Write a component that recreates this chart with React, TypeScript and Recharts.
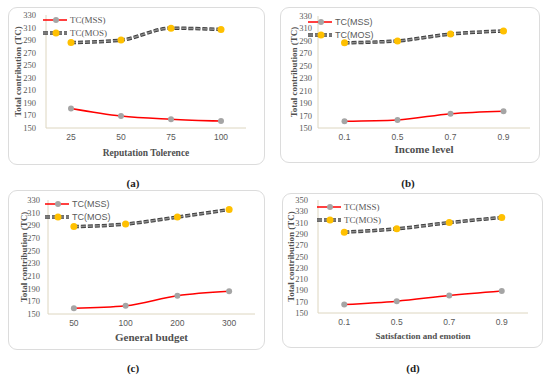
import { LineChart, Line, XAxis, YAxis, Legend } from 'recharts';

const catsA = ['25', '50', '75', '100'];
const mssA = [181, 169, 164, 161];
const mosA = [286, 290, 309, 307];

const catsB = ['0.1', '0.5', '0.7', '0.9'];
const mssB = [161, 163, 173, 177];
const mosB = [287, 290, 301, 306];

const catsC = ['50', '100', '200', '300'];
const mssC = [159, 163, 179, 186];
const mosC = [288, 292, 303, 315];

const catsD = ['0.1', '0.5', '0.7', '0.9'];
const mssD = [165, 171, 181, 189];
const mosD = [293, 299, 310, 319];

const ticks330 = [150, 170, 190, 210, 230, 250, 270, 290, 310, 330];
const ticks350 = [150, 170, 190, 210, 230, 250, 270, 290, 310, 330, 350];

const SERIF = '"Liberation Serif", "DejaVu Serif", serif';
const SANS = '"Liberation Sans", Arial, sans-serif';
const BORDER = '#ddd6c0';

type PanelProps = {
  cats: string[];
  mss: number[];
  mos: number[];
  ticks: number[];
  box: { left: number; top: number; width: number; height: number };
  margin: { top: number; right: number; bottom: number; left: number };
  yWidth: number;
  yTickGap: number;
  yTitleOffset: number;
  xHeight: number;
  xTitle: string;
  xTitleSize: number;
  xTitleOffset: number;
  legendPos: { left: number; top: number };
  legendFont: string;
};

function LegendBox({ font }: { font: string }) {
  return (
    <svg width={90} height={28} style={{ display: 'block' }}>
      <line x1={0} y1={6} x2={24} y2={6} stroke="#ff0000" strokeWidth={1.5} />
      <circle cx={13} cy={6} r={3} fill="#a5a5a5" />
      <text x={27} y={9} fontSize={9} fontFamily={font} fill="#595959">TC(MSS)</text>
      <line x1={0} y1={19} x2={24} y2={19} stroke="#404040" strokeWidth={3.5} strokeDasharray="5 2" />
      <line x1={0} y1={19} x2={24} y2={19} stroke="#8c8c8c" strokeWidth={1.5} strokeDasharray="5 2" />
      <circle cx={13} cy={19} r={3.5} fill="#ffc000" />
      <text x={27} y={22} fontSize={9} fontFamily={font} fill="#595959">TC(MOS)</text>
    </svg>
  );
}

function Panel(p: PanelProps) {
  const data = p.cats.map((c, i) => ({ cat: c, mss: p.mss[i], mos: p.mos[i] }));
  return (
    <div
      style={{
        position: 'absolute',
        left: p.box.left,
        top: p.box.top,
        width: p.box.width,
        height: p.box.height,
        border: '1px solid #dcdcdc',
        borderRadius: 9,
        boxSizing: 'border-box',
      }}
    >
      <div style={{ position: 'absolute', left: -1, top: -1 }}>
        <LineChart width={p.box.width} height={p.box.height} data={data} margin={p.margin}>
          <XAxis
            dataKey="cat"
            scale="band"
            height={p.xHeight}
            axisLine={{ stroke: BORDER }}
            tickLine={false}
            tickSize={0}
            tickMargin={6}
            tick={{ fontSize: 8.5, fill: '#595959', fontFamily: SANS }}
            label={{
              value: p.xTitle,
              position: 'insideBottom',
              offset: p.xTitleOffset,
              style: { fontSize: p.xTitleSize, fontWeight: 'bold', fill: '#505050', fontFamily: SERIF },
            }}
          />
          <XAxis xAxisId="top" dataKey="cat" orientation="top" height={0} axisLine={{ stroke: BORDER }} tick={false} tickLine={false} />
          <YAxis
            domain={[p.ticks[0], p.ticks[p.ticks.length - 1]]}
            ticks={p.ticks}
            interval={0}
            width={p.yWidth}
            axisLine={{ stroke: BORDER }}
            tickLine={false}
            tickSize={0}
            tickMargin={p.yTickGap}
            tick={{ fontSize: 8.5, fill: '#595959', fontFamily: SERIF }}
            label={{
              value: 'Total contribution (TC)',
              angle: -90,
              position: 'insideLeft',
              offset: p.yTitleOffset,
              style: { textAnchor: 'middle', fontSize: 9, fontWeight: 'bold', fill: '#505050', fontFamily: SERIF },
            }}
          />
          <YAxis yAxisId="right" orientation="right" width={0} axisLine={{ stroke: BORDER }} tick={false} tickLine={false} />
          <Legend
            layout="horizontal"
            verticalAlign="middle"
            align="center"
            content={() => <LegendBox font={p.legendFont} />}
            wrapperStyle={{ position: 'absolute', left: p.legendPos.left, top: p.legendPos.top, width: 90, height: 28 }}
          />
          <Line
            dataKey="mss"
            name="TC(MSS)"
            type="monotone"
            stroke="#ff0000"
            strokeWidth={1.5}
            dot={{ r: 3, fill: '#a5a5a5', stroke: 'none' }}
            isAnimationActive={false}
          />
          <Line
            dataKey="mos"
            name="TC(MOS)"
            type="monotone"
            stroke="#404040"
            strokeWidth={3.5}
            strokeDasharray="5 2"
            dot={false}
            legendType="none"
            isAnimationActive={false}
          />
          <Line
            dataKey="mos"
            name="TC(MOS) "
            type="monotone"
            stroke="#8c8c8c"
            strokeWidth={1.5}
            strokeDasharray="5 2"
            dot={{ r: 3.5, fill: '#ffc000', stroke: 'none' }}
            legendType="none"
            isAnimationActive={false}
          />
        </LineChart>
      </div>
    </div>
  );
}

const caption: React.CSSProperties = {
  position: 'absolute',
  fontFamily: SERIF,
  fontWeight: 'bold',
  fontSize: 11,
  color: '#222',
  transform: 'translate(-50%, -50%)',
};

export default function App() {
  return (
    <div style={{ position: 'absolute', left: 0, top: 0, width: 550, height: 377, background: '#fff', overflow: 'hidden' }}>
      <Panel
        cats={catsA}
        mss={mssA}
        mos={mosA}
        ticks={ticks330}
        box={{ left: 8, top: 7, width: 257, height: 158 }}
        margin={{ top: 8, right: 19, bottom: 0, left: 0 }}
        yWidth={38}
        yTickGap={10}
        yTitleOffset={10}
        xHeight={37}
        xTitle="Reputation Tolerence"
        xTitleSize={9.5}
        xTitleOffset={9}
        legendPos={{ left: 35, top: 7 }}
        legendFont={SERIF}
      />
      <Panel
        cats={catsB}
        mss={mssB}
        mos={mosB}
        ticks={ticks330}
        box={{ left: 280, top: 7, width: 260, height: 156 }}
        margin={{ top: 9, right: 10, bottom: 0, left: 0 }}
        yWidth={38}
        yTickGap={6}
        yTitleOffset={14}
        xHeight={35}
        xTitle="Income level"
        xTitleSize={11}
        xTitleOffset={10}
        legendPos={{ left: 28, top: 9 }}
        legendFont={SANS}
      />
      <Panel
        cats={catsC}
        mss={mssC}
        mos={mosC}
        ticks={ticks330}
        box={{ left: 8, top: 190, width: 257, height: 160 }}
        margin={{ top: 10, right: 10, bottom: 0, left: 0 }}
        yWidth={40}
        yTickGap={8}
        yTitleOffset={16}
        xHeight={36}
        xTitle="General budget"
        xTitleSize={11}
        xTitleOffset={9}
        legendPos={{ left: 37, top: 8 }}
        legendFont={SANS}
      />
      <Panel
        cats={catsD}
        mss={mssD}
        mos={mosD}
        ticks={ticks350}
        box={{ left: 282, top: 193, width: 261, height: 155 }}
        margin={{ top: 7, right: 15, bottom: 0, left: 0 }}
        yWidth={36}
        yTickGap={10}
        yTitleOffset={9}
        xHeight={35}
        xTitle="Satisfaction and emotion"
        xTitleSize={9}
        xTitleOffset={9}
        legendPos={{ left: 35, top: 8 }}
        legendFont={SERIF}
      />
      <div style={{ ...caption, left: 133, top: 183 }}>(a)</div>
      <div style={{ ...caption, left: 408, top: 183 }}>(b)</div>
      <div style={{ ...caption, left: 133, top: 368 }}>(c)</div>
      <div style={{ ...caption, left: 413, top: 368 }}>(d)</div>
    </div>
  );
}
